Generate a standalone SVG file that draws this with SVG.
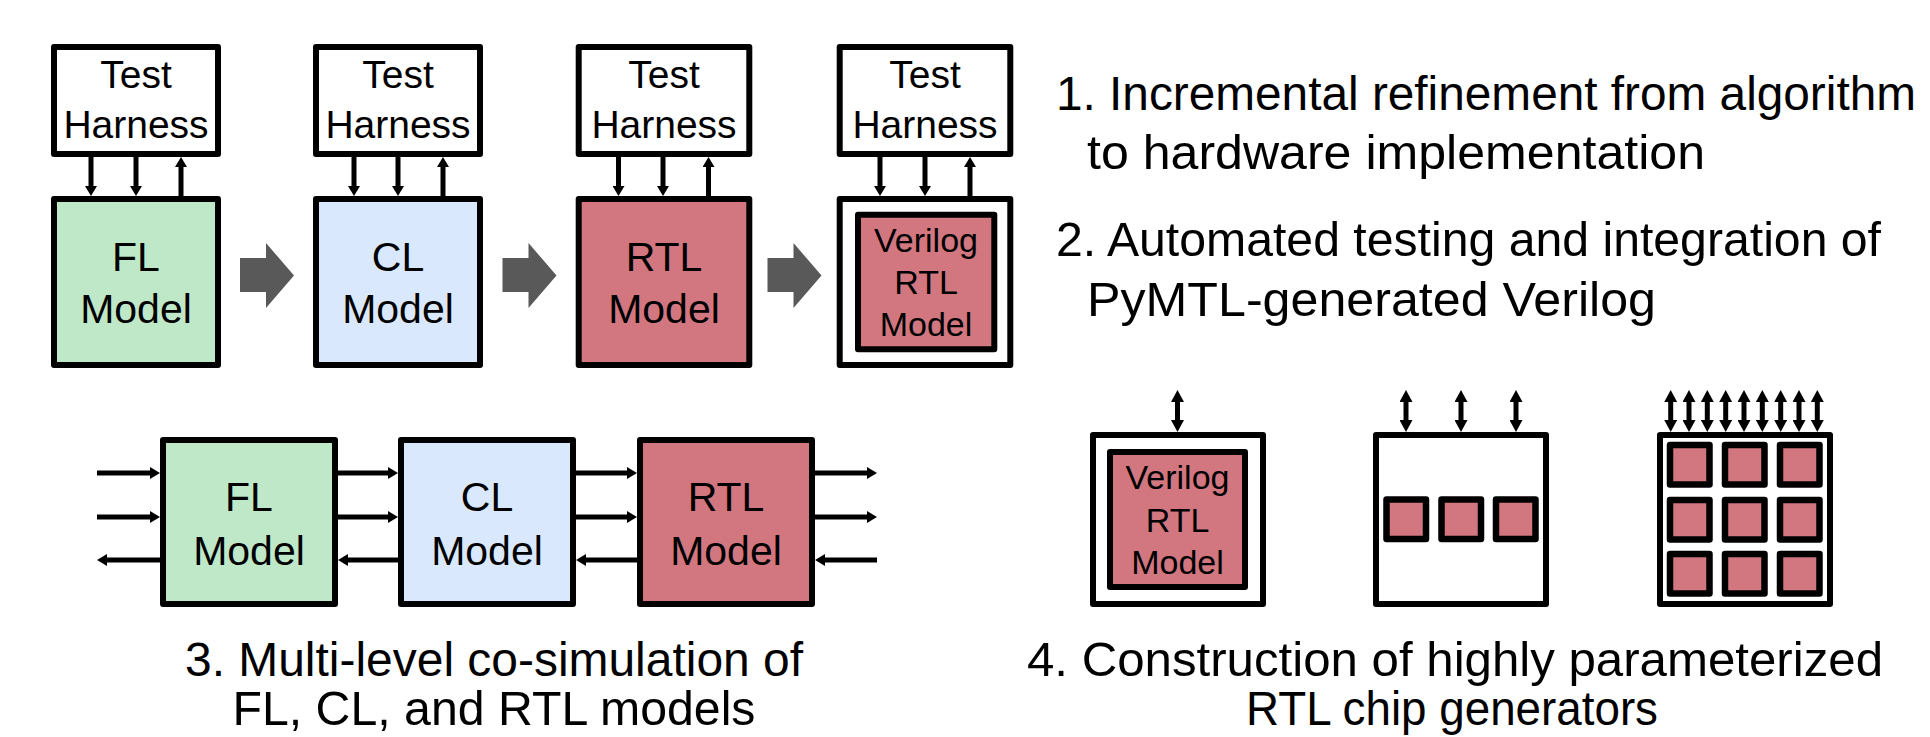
<svg xmlns="http://www.w3.org/2000/svg" width="1930" height="737" viewBox="0 0 1930 737">
  <style>
    .box { stroke: #000; stroke-width: 6; stroke-linejoin: round; }
    .white { fill: #fff; }
    .fl { fill: #bee8c8; }
    .cl { fill: #d9e8fc; }
    .rtl { fill: #d27780; }
    .chip { fill: #d27780; stroke: #000; stroke-width: 6.5; stroke-linejoin: round; }
    .wire { stroke: #000; stroke-width: 5; fill: none; }
    .one { marker-end: url(#head); }
    .two { marker-start: url(#port); marker-end: url(#port); }
    .step { fill: #595959; }
    text { font-family: "Liberation Sans", Arial, Helvetica, sans-serif; fill: #000; text-anchor: middle; }
    .lbl { font-size: 39px; }
    .mdl { font-size: 41px; }
    .vlg { font-size: 34px; }
    .cap { font-size: 48px; }
    .left { text-anchor: start; }
  </style>
  <defs>
    <marker id="head" viewBox="0 0 10 12" markerUnits="userSpaceOnUse" markerWidth="10" markerHeight="12" refX="4" refY="6" orient="auto-start-reverse">
      <path d="M0,0 L10,6 L0,12 z" fill="#000"/>
    </marker>
    <marker id="port" viewBox="0 0 12 13" markerUnits="userSpaceOnUse" markerWidth="12" markerHeight="13" refX="5" refY="6.5" orient="auto-start-reverse">
      <path d="M0,0 L12,6.5 L0,13 z" fill="#000"/>
    </marker>
  </defs>

  <rect width="1930" height="737" fill="#fff"/>

  <!-- Top row: test harness driving each model level -->
  <g id="fl-harness">
    <rect class="box white" x="54" y="47" width="164" height="107"/>
    <text class="lbl" x="136" y="88">Test</text>
    <text class="lbl" x="136" y="138">Harness</text>
  </g>
  <g id="fl-model">
    <rect class="box fl" x="54" y="199" width="164" height="166"/>
    <text class="mdl" x="136" y="271">FL</text>
    <text class="mdl" x="136" y="323">Model</text>
  </g>

  <g id="cl-harness">
    <rect class="box white" x="316" y="47" width="164" height="107"/>
    <text class="lbl" x="398" y="88">Test</text>
    <text class="lbl" x="398" y="138">Harness</text>
  </g>
  <g id="cl-model">
    <rect class="box cl" x="316" y="199" width="164" height="166"/>
    <text class="mdl" x="398" y="271">CL</text>
    <text class="mdl" x="398" y="323">Model</text>
  </g>

  <g id="rtl-harness">
    <rect class="box white" x="578.7" y="47" width="170.6" height="107"/>
    <text class="lbl" x="664" y="88">Test</text>
    <text class="lbl" x="664" y="138">Harness</text>
  </g>
  <g id="rtl-model">
    <rect class="box rtl" x="578.7" y="199" width="170.6" height="166"/>
    <text class="mdl" x="664" y="271">RTL</text>
    <text class="mdl" x="664" y="323">Model</text>
  </g>

  <g id="vlog-harness">
    <rect class="box white" x="839.7" y="47" width="170.6" height="107"/>
    <text class="lbl" x="925" y="88">Test</text>
    <text class="lbl" x="925" y="138">Harness</text>
  </g>
  <g id="vlog-wrapper">
    <rect class="box white" x="839.7" y="199" width="170.6" height="166"/>
    <rect class="box rtl" x="858" y="214.7" width="136.3" height="134.6"/>
    <text class="vlg" x="926" y="252">Verilog</text>
    <text class="vlg" x="926" y="294">RTL</text>
    <text class="vlg" x="926" y="336">Model</text>
  </g>

  <!-- Refinement steps -->
  <g id="steps">
    <polygon class="step" points="240,258 266,258 266,243 294,275.5 266,308 266,292 240,292"/>
    <polygon class="step" points="502.5,258 528.5,258 528.5,243 556.5,275.5 528.5,308 528.5,292 502.5,292"/>
    <polygon class="step" points="767.5,258 793.5,258 793.5,243 821.5,275.5 793.5,308 793.5,292 767.5,292"/>
  </g>

  <!-- Bottom-left row: co-simulation chain -->
  <g id="cosim-fl">
    <rect class="box fl" x="163" y="440" width="172" height="164"/>
    <text class="mdl" x="249" y="511">FL</text>
    <text class="mdl" x="249" y="565">Model</text>
  </g>
  <g id="cosim-cl">
    <rect class="box cl" x="401" y="440" width="172" height="164"/>
    <text class="mdl" x="487" y="511">CL</text>
    <text class="mdl" x="487" y="565">Model</text>
  </g>
  <g id="cosim-rtl">
    <rect class="box rtl" x="640" y="440" width="172" height="164"/>
    <text class="mdl" x="726" y="511">RTL</text>
    <text class="mdl" x="726" y="565">Model</text>
  </g>

  <!-- Bottom-right: chip generators -->
  <g id="gen-single">
    <rect class="box white" x="1093" y="435" width="170" height="169"/>
    <rect class="box rtl" x="1110" y="452" width="135" height="135"/>
    <text class="vlg" x="1177.5" y="489">Verilog</text>
    <text class="vlg" x="1177.5" y="532">RTL</text>
    <text class="vlg" x="1177.5" y="574">Model</text>
  </g>
  <g id="gen-row">
    <rect class="box white" x="1376" y="435" width="170" height="169"/>
    <rect class="chip" x="1386.5" y="499.5" width="39.5" height="39.5"/>
    <rect class="chip" x="1441.5" y="499.5" width="39.5" height="39.5"/>
    <rect class="chip" x="1496" y="499.5" width="39.5" height="39.5"/>
  </g>
  <g id="gen-grid">
    <rect class="box white" x="1660" y="435" width="170" height="169"/>
    <rect class="chip" x="1670" y="445" width="39.5" height="39.5"/>
    <rect class="chip" x="1725" y="445" width="39.5" height="39.5"/>
    <rect class="chip" x="1780" y="445" width="39.5" height="39.5"/>
    <rect class="chip" x="1670" y="500" width="39.5" height="39.5"/>
    <rect class="chip" x="1725" y="500" width="39.5" height="39.5"/>
    <rect class="chip" x="1780" y="500" width="39.5" height="39.5"/>
    <rect class="chip" x="1670" y="554" width="39.5" height="39.5"/>
    <rect class="chip" x="1725" y="554" width="39.5" height="39.5"/>
    <rect class="chip" x="1780" y="554" width="39.5" height="39.5"/>
  </g>

  <!-- Connectors -->
  <g id="connectors">
    <!-- harness to model: two requests down, one response up -->
    <line class="wire one" x1="91" y1="154" x2="91" y2="190"/>
    <line class="wire one" x1="136" y1="154" x2="136" y2="190"/>
    <line class="wire one" x1="181" y1="199" x2="181" y2="163"/>
    <line class="wire one" x1="354" y1="154" x2="354" y2="190"/>
    <line class="wire one" x1="398" y1="154" x2="398" y2="190"/>
    <line class="wire one" x1="443" y1="199" x2="443" y2="163"/>
    <line class="wire one" x1="618.5" y1="154" x2="618.5" y2="190"/>
    <line class="wire one" x1="663" y1="154" x2="663" y2="190"/>
    <line class="wire one" x1="708.5" y1="199" x2="708.5" y2="163"/>
    <line class="wire one" x1="880" y1="154" x2="880" y2="190"/>
    <line class="wire one" x1="925" y1="154" x2="925" y2="190"/>
    <line class="wire one" x1="970" y1="199" x2="970" y2="163"/>
    <!-- co-simulation links -->
    <line class="wire one" x1="97" y1="473" x2="154" y2="473"/>
    <line class="wire one" x1="97" y1="517" x2="154" y2="517"/>
    <line class="wire one" x1="160" y1="560" x2="103" y2="560"/>
    <line class="wire one" x1="338" y1="473" x2="392" y2="473"/>
    <line class="wire one" x1="338" y1="517" x2="392" y2="517"/>
    <line class="wire one" x1="398" y1="560" x2="344" y2="560"/>
    <line class="wire one" x1="576" y1="473" x2="631" y2="473"/>
    <line class="wire one" x1="576" y1="517" x2="631" y2="517"/>
    <line class="wire one" x1="637" y1="560" x2="582" y2="560"/>
    <line class="wire one" x1="815" y1="473" x2="871" y2="473"/>
    <line class="wire one" x1="815" y1="517" x2="871" y2="517"/>
    <line class="wire one" x1="877" y1="560" x2="821" y2="560"/>
    <!-- chip ports -->
    <line class="wire two" x1="1177.5" y1="397" x2="1177.5" y2="425"/>
    <line class="wire two" x1="1406" y1="397" x2="1406" y2="425"/>
    <line class="wire two" x1="1461" y1="397" x2="1461" y2="425"/>
    <line class="wire two" x1="1516" y1="397" x2="1516" y2="425"/>
    <line class="wire two" x1="1670.7" y1="397" x2="1670.7" y2="425"/>
    <line class="wire two" x1="1689" y1="397" x2="1689" y2="425"/>
    <line class="wire two" x1="1707.3" y1="397" x2="1707.3" y2="425"/>
    <line class="wire two" x1="1725.7" y1="397" x2="1725.7" y2="425"/>
    <line class="wire two" x1="1744" y1="397" x2="1744" y2="425"/>
    <line class="wire two" x1="1762.3" y1="397" x2="1762.3" y2="425"/>
    <line class="wire two" x1="1780.7" y1="397" x2="1780.7" y2="425"/>
    <line class="wire two" x1="1799" y1="397" x2="1799" y2="425"/>
    <line class="wire two" x1="1817.3" y1="397" x2="1817.3" y2="425"/>
  </g>

  <!-- Captions -->
  <g id="captions">
    <text class="cap left" x="1056" y="110" textLength="860" lengthAdjust="spacingAndGlyphs">1. Incremental refinement from algorithm</text>
    <text class="cap left" x="1087" y="169" textLength="618" lengthAdjust="spacingAndGlyphs">to hardware implementation</text>
    <text class="cap left" x="1056" y="256" textLength="825" lengthAdjust="spacingAndGlyphs">2. Automated testing and integration of</text>
    <text class="cap left" x="1087" y="316" textLength="569" lengthAdjust="spacingAndGlyphs">PyMTL-generated Verilog</text>
    <text class="cap" x="494" y="676" textLength="618" lengthAdjust="spacingAndGlyphs">3. Multi-level co-simulation of</text>
    <text class="cap" x="494" y="725" textLength="523" lengthAdjust="spacingAndGlyphs">FL, CL, and RTL models</text>
    <text class="cap" x="1455" y="676" textLength="856" lengthAdjust="spacingAndGlyphs">4. Construction of highly parameterized</text>
    <text class="cap" x="1452" y="725" textLength="412" lengthAdjust="spacingAndGlyphs">RTL chip generators</text>
  </g>
</svg>
